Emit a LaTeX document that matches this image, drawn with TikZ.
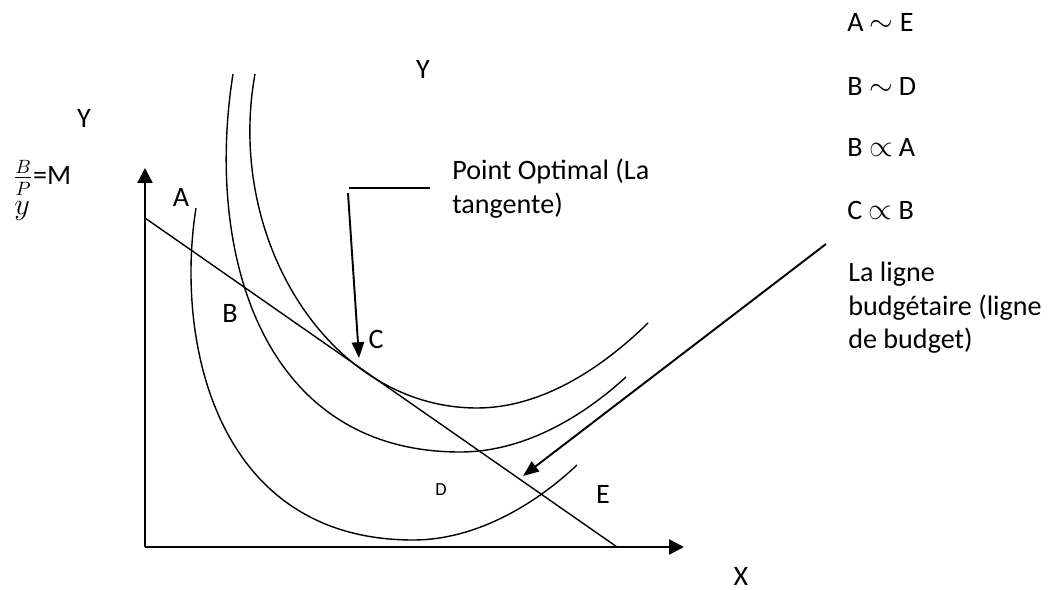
\documentclass[tikz,border=0pt]{standalone}
\usepackage{fontspec}
\setmainfont{Carlito}
\usetikzlibrary{arrows.meta,positioning}

\begin{document}
\begin{tikzpicture}[x=0.02cm, y=-0.02cm,
  lbl/.style={font=\fontsize{16}{19}\selectfont, inner sep=0pt},
  tinylbl/.style={font=\fontsize{10.5}{12}\selectfont, inner sep=0pt},
  axis/.style={line width=1.4pt, -{Triangle[length=8.5pt, width=8.5pt]}},
  indiff/.style={line width=0.8pt},
  pointer/.style={line width=1.1pt, -{Triangle[length=9pt, width=7pt]}}]

  \useasboundingbox (0,0) rectangle (1053,590);

  % === Axes ===
  \coordinate (O) at (145,547);
  \coordinate (ytip) at (145,168);
  \coordinate (xtip) at (684,547);
  \draw[axis] (O) -- (ytip);
  \draw[axis] (O) -- (xtip);

  % === Budget line ===
  \coordinate (bl0) at (145,218);
  \coordinate (bl1) at (617,547);
  \draw[indiff] (bl0) -- (bl1);

  % === Indifference curves ===
  % outer curve (A, B, D, E)
  \draw[indiff] (196,208) .. controls (175,340) and (215,540) .. (413,540)
                          .. controls (480,540) and (540,500) .. (577,465);
  % middle curve
  \draw[indiff] (233,74) .. controls (205,250) and (260,452) .. (460,452)
                         .. controls (530,452) and (590,410) .. (626,377);
  % inner curve, touching the budget line at C
  \draw[indiff] (255,74) .. controls (225,240) and (330,408) .. (477,408)
                         .. controls (540,408) and (600,370) .. (648,323);

  % === Pointers ===
  \coordinate (lead0) at (349,188);
  \coordinate (lead1) at (430,188);
  \coordinate (opt0) at (348,193);
  \coordinate (opt) at (359,358);
  \draw[line width=1pt] (lead0) -- (lead1);
  \draw[pointer] (opt0) -- (opt);

  \coordinate (bud0) at (826,244);
  \coordinate (bud) at (523,476);
  \draw[pointer] (bud0) -- (bud);

  % === Point labels ===
  \node[lbl, anchor=base] (A) at (181,207) {A};
  \node[lbl, anchor=base] (B) at (230,323) {B};
  \node[lbl, anchor=base] (C) at (376,349) {C};
  \node[tinylbl, anchor=base] (D) at (441,495) {D};
  \node[lbl, anchor=base] (E) at (603,503) {E};

  % axis names
  \node[lbl, anchor=base] (X) at (741,585) {X};
  \node[lbl, anchor=base] (Ytop) at (423,79) {Y};
  \node[lbl, anchor=base] (Yleft) at (84,128) {Y};
  \node[lbl, anchor=base west] (ratio) at (13,185) {$\frac{B}{P}$=M};
  \node[lbl, anchor=base west] (ydiv) at (14,215) {$y$};

  % === Texts ===
  \node[lbl, anchor=north west, align=left] (optlbl) at (452,159)
    {Point Optimal (La\\tangente)};
  \node[lbl, anchor=north west, align=left] (budlbl) at (848,262)
    {La ligne\\budgétaire (ligne\\de budget)};

  % relations
  \foreach \rel/\yb [count=\i] in {A $\sim$ E/32, B $\sim$ D/96, B $\propto$ A/157, C $\propto$ B/220}
    \node[lbl, anchor=base west] (rel\i) at (847,\yb) {\rel};

\end{tikzpicture}
\end{document}
